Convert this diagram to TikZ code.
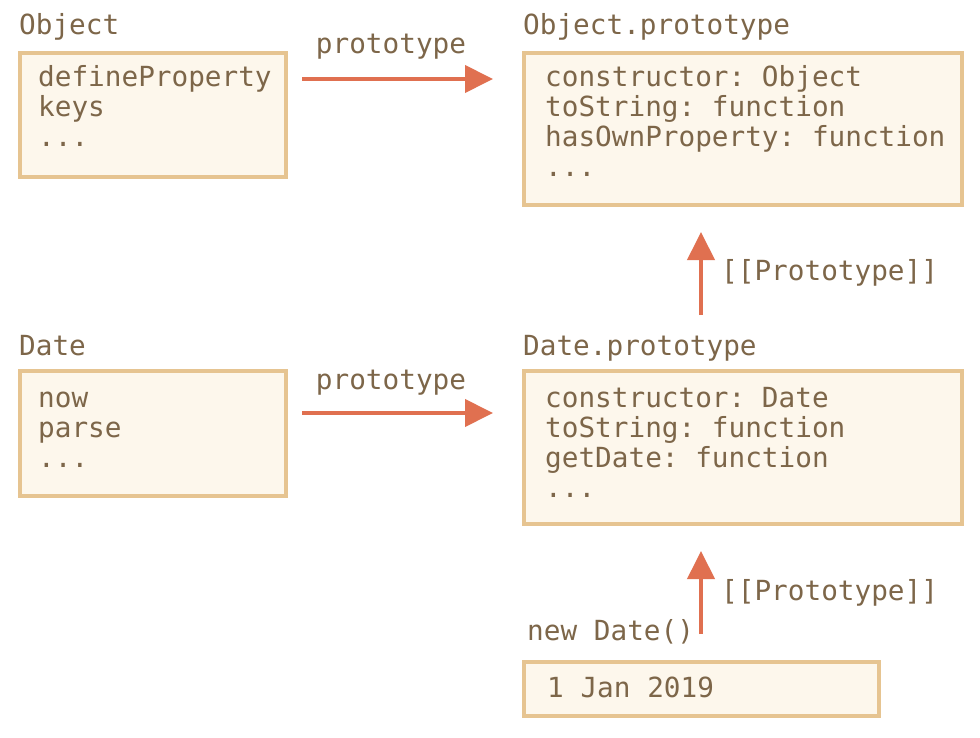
\documentclass[tikz,border=0pt]{standalone}
\usepackage{fontspec}
\setmonofont{DejaVu Sans Mono}
\usetikzlibrary{arrows.meta,calc}
\definecolor{boxfill}{HTML}{FDF7EC}
\definecolor{boxline}{HTML}{E6C491}
\definecolor{txt}{HTML}{7D6649}
\definecolor{arr}{HTML}{E07050}
\tikzset{
  objbox/.style={draw=boxline, fill=boxfill, line width=3.5pt, anchor=north west, inner sep=0pt, outer sep=0pt},
  code/.style={anchor=base west, inner sep=0pt, text=txt, font=\ttfamily\fontsize{27.7}{30}\selectfont},
  link/.style={draw=arr, line width=4pt, -{Triangle[length=28pt,width=27pt]}}
}
\begin{document}
\begin{tikzpicture}[x=1pt,y=-1pt]
\useasboundingbox (0,0) rectangle (980,738);
\fill[white] (0,0) rectangle (980,738);

% Object constructor
\node[code] (objname) at (19,35) {Object};
\node[objbox, minimum width=266pt, minimum height=124pt] (objbox) at (20,53) {};
\node[code] (objl1) at (38,87) {defineProperty};
\node[code] (objl2) at (38,117) {keys};
\node[code] (objl3) at (38,147) {...};

% Object.prototype
\node[code] (opname) at (523,35) {Object.prototype};
\node[objbox, minimum width=438pt, minimum height=152pt] (opbox) at (524,53) {};
\node[code] (opl1) at (545,87) {constructor: Object};
\node[code] (opl2) at (545,117) {toString: function};
\node[code] (opl3) at (545,147) {hasOwnProperty: function};
\node[code] (opl4) at (545,177) {...};

% Date constructor
\node[code] (datename) at (19,355) {Date};
\node[objbox, minimum width=266pt, minimum height=125pt] (datebox) at (20,371) {};
\node[code] (datel1) at (38,407) {now};
\node[code] (datel2) at (38,437) {parse};
\node[code] (datel3) at (38,467) {...};

% Date.prototype
\node[code] (dpname) at (523,355) {Date.prototype};
\node[objbox, minimum width=438pt, minimum height=153pt] (dpbox) at (524,371) {};
\node[code] (dpl1) at (545,407) {constructor: Date};
\node[code] (dpl2) at (545,437) {toString: function};
\node[code] (dpl3) at (545,467) {getDate: function};
\node[code] (dpl4) at (545,497) {...};

% Date instance
\node[code] (instname) at (527,640) {new Date()};
\node[objbox, minimum width=355pt, minimum height=54pt] (instbox) at (524,662) {};
\node[code] (instl1) at (547,697) {1 Jan 2019};

% prototype links
\draw[link] ($(objbox.north east)+(16,26)$) -- ($(opbox.north west)+(-31,26)$);
\node[code, anchor=base] (p1) at (391,54) {prototype};
\draw[link] ($(datebox.north east)+(16,42)$) -- ($(dpbox.north west)+(-31,42)$);
\node[code, anchor=base] (p2) at (391,389) {prototype};

% [[Prototype]] links
\draw[link] ($(dpbox.north west)+(177,-56)$) -- ($(opbox.south west)+(177,27)$);
\node[code] (pp1) at (721,280) {[[Prototype]]};
\draw[link] ($(instbox.north west)+(177,-28)$) -- ($(dpbox.south west)+(177,27)$);
\node[code] (pp2) at (721,600) {[[Prototype]]};
\end{tikzpicture}
\end{document}
